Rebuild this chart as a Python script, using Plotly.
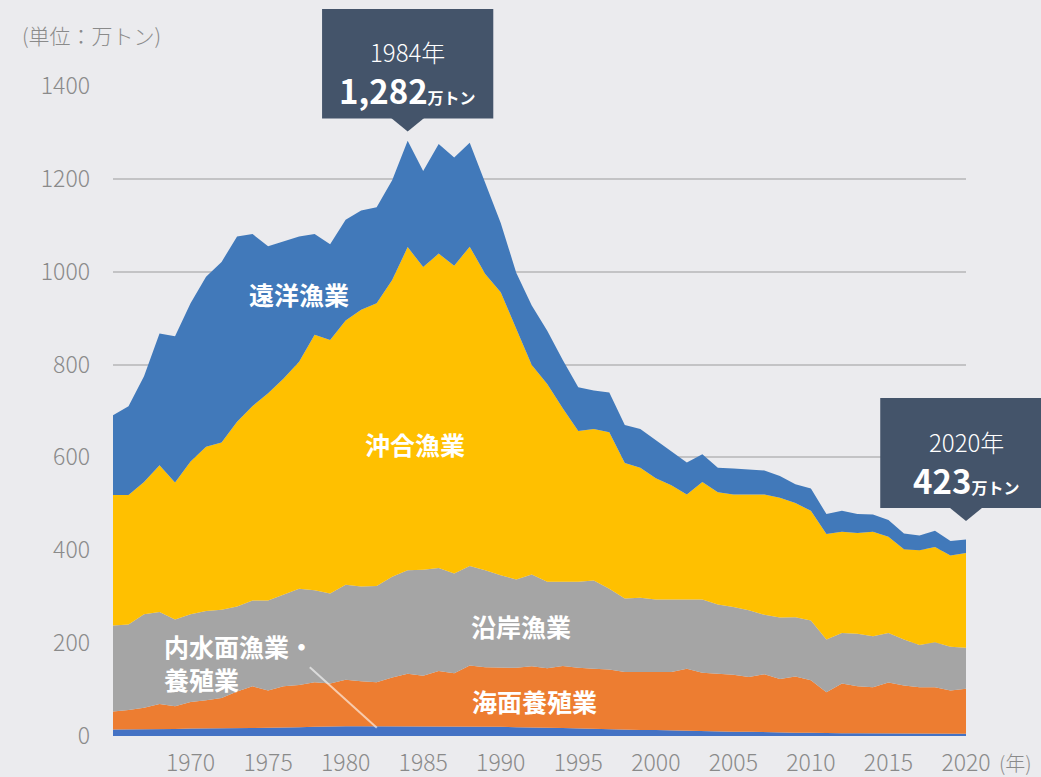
import plotly.graph_objects as go

years = list(range(1965, 2021))

inland = [14, 14, 14, 15, 15, 16, 16, 16, 17, 17,
          18, 18, 19, 20, 21, 21, 21, 21, 21, 20,
          20, 20, 20, 20, 20, 20, 19, 19, 18, 17,
          16, 16, 15, 14, 13, 13, 12, 11, 11, 10,
          9, 9, 8, 7, 7, 7, 6, 6, 6, 6,
          6, 6, 6, 6, 5, 5]

marine_aqua = [39, 42, 47, 54, 49, 57, 61, 66, 79, 90,
               80, 89, 91, 96, 92, 100, 97, 95, 105, 114,
               110, 120, 115, 132, 128, 127, 128, 131, 128, 134,
               131, 129, 128, 124, 125, 125, 126, 134, 125, 124,
               123, 118, 125, 116, 121, 113, 88, 107, 101, 99,
               109, 103, 99, 99, 93, 97]

coastal = [185, 184, 201, 198, 187, 189, 192, 190, 183, 185,
           194, 198, 207, 198, 194, 205, 204, 207, 217, 223,
           228, 222, 215, 214, 209, 199, 190, 198, 186, 181,
           185, 190, 174, 158, 160, 156, 156, 149, 158, 149,
           146, 144, 128, 132, 128, 129, 114, 109, 113, 110,
           107, 99, 91, 97, 94, 88]

offshore = [281, 279, 285, 316, 295, 329, 354, 360, 398, 419,
            446, 465, 489, 550, 546, 569, 596, 609, 639, 696,
            652, 677, 663, 688, 638, 610, 540, 451, 426, 374,
            325, 326, 337, 292, 280, 261, 246, 226, 253, 242,
            242, 249, 259, 258, 246, 236, 227, 218, 217, 225,
            207, 194, 204, 205, 197, 204]

distant = [172, 191, 228, 284, 315, 341, 366, 389, 399, 370,
           317, 296, 270, 217, 206, 217, 214, 207, 215, 229,
           207, 236, 233, 224, 196, 149, 121, 128, 115, 104,
           94, 83, 86, 82, 83, 82, 74, 69, 60, 53,
           56, 54, 52, 47, 40, 48, 43, 45, 41, 37,
           36, 34, 32, 35, 31, 29]

series_names = ["内水面漁業・養殖業", "海面養殖業", "沿岸漁業", "沖合漁業", "遠洋漁業"]
series_vals = [inland, marine_aqua, coastal, offshore, distant]
series_colors = ["#4472c4", "#ed7d31", "#a5a5a5", "#ffc000", "#4179ba"]

x_ticks = [1970, 1975, 1980, 1985, 1990, 1995, 2000, 2005, 2010, 2015, 2020]
y_ticks = [0, 200, 400, 600, 800, 1000, 1200, 1400]

X0, X1 = 1965, 2020
Y0, Y1 = 0, 1400

def px(year):
    return (year - X0) / (X1 - X0)

def py(val):
    return (val - Y0) / (Y1 - Y0)

FONT = "Noto Sans CJK JP"
GRAY = "#8a8a8a"
BOX = "#44546a"
BG = "#ebebee"

fig = go.Figure()
for name, vals, col in zip(series_names, series_vals, series_colors):
    fig.add_trace(go.Scatter(
        x=years, y=vals, name=name, stackgroup="one",
        mode="lines", line=dict(width=0, color=col),
        fillcolor=col, hoverinfo="skip", showlegend=False))

fig.update_layout(
    width=1041, height=777,
    margin=dict(l=113, r=75, t=86, b=41),
    paper_bgcolor=BG, plot_bgcolor=BG,
    font=dict(family=FONT, color=GRAY),
    xaxis=dict(range=[X0, X1], tickvals=x_ticks, ticktext=[str(v) for v in x_ticks],
               showgrid=False, zeroline=False, showline=False, ticks="",
               tickfont=dict(size=23, color=GRAY, family=FONT, weight=300),
               ticklabelstandoff=11, fixedrange=True, automargin=False),
    yaxis=dict(range=[Y0, Y1], tickvals=y_ticks, ticktext=[str(v) for v in y_ticks],
               showgrid=True, gridcolor="#c3c3c5", gridwidth=2,
               zeroline=False, showline=False, ticks="",
               tickfont=dict(size=23, color=GRAY, family=FONT, weight=300),
               ticklabelstandoff=22, fixedrange=True, automargin=False),
)

shapes = []
annotations = []

# unit label and year suffix
annotations.append(dict(xref="paper", yref="paper", x=(20 - 113) / 853, y=(735.5 - 35) / 649.2,
                        xanchor="left", yanchor="middle", showarrow=False,
                        text="(単位：万トン)", font=dict(size=21, color=GRAY, family=FONT, weight=300)))
annotations.append(dict(xref="paper", yref="paper", x=(997 - 113) / 853, y=-26 / 649.2,
                        xanchor="left", yanchor="middle", showarrow=False,
                        text="(年)", font=dict(size=20, color=GRAY, family=FONT, weight=300)))

yrs_per_px = 55 / 852.5

def callout(cx, top_val, bot_val, tip_val, left_yr, right_yr, line1, big, line1_val, line2_val):
    shapes.append(dict(type="rect", xref="paper", yref="paper",
                       x0=px(left_yr), x1=px(right_yr), y0=py(bot_val), y1=py(top_val),
                       fillcolor=BOX, line=dict(width=0), layer="above"))
    hw = 16.5 * yrs_per_px
    path = "M {a},{b} L {c},{d} L {e},{f} Z".format(
        a=px(cx - hw), b=py(bot_val + 1), c=px(cx + hw), d=py(bot_val + 1), e=px(cx), f=py(tip_val))
    shapes.append(dict(type="path", xref="paper", yref="paper", path=path,
                       fillcolor=BOX, line=dict(width=0), layer="above"))
    annotations.append(dict(xref="paper", yref="paper", x=px(cx), y=py(line1_val),
                            xanchor="center", yanchor="middle", showarrow=False,
                            text=line1, font=dict(size=24, color="white", family=FONT, weight=300)))
    annotations.append(dict(xref="paper", yref="paper", x=px(cx), y=py(line2_val),
                            xanchor="center", yanchor="middle", showarrow=False,
                            text="<b>" + big + "</b><span style='font-size:16px'><b>万トン</b></span>",
                            font=dict(size=33, color="white", family=FONT)))

callout(1984, 1566, 1330, 1302, 1978.48, 1989.52, "1984年", "1,282", 1475, 1392)
callout(2020, 728, 491, 463, 2014.47, 2027.0, "2020年", "423", 634, 552)

# series labels
def label(text, yr, val, anchor="center"):
    annotations.append(dict(xref="paper", yref="paper", x=px(yr), y=py(val),
                            xanchor=anchor, yanchor="middle", showarrow=False, align="left",
                            text="<b>" + text + "</b>",
                            font=dict(size=25, color="white", family=FONT)))

label("遠洋漁業", 1965 + (299 - 113.3) / 15.5, (735.5 - 294) / 0.4636)
label("沖合漁業", 1965 + (415 - 113.3) / 15.5, (735.5 - 444) / 0.4636)
label("沿岸漁業", 1965 + (521 - 113.3) / 15.5, (735.5 - 626) / 0.4636)
label("海面養殖業", 1965 + (535 - 113.3) / 15.5, (735.5 - 701) / 0.4636)
label("内水面漁業・<br>養殖業", 1965 + (162 - 113.3) / 15.5, (735.5 - 662) / 0.4636, anchor="left")

# leader line to inland layer
shapes.append(dict(type="line", xref="paper", yref="paper",
                   x0=px(1977.69), y0=py(148), x1=px(1982.01), y1=py(18),
                   line=dict(color="rgba(255,255,255,0.6)", width=2)))

fig.update_layout(shapes=shapes, annotations=annotations)
fig.write_html("out.html", config={"displayModeBar": False},
               post_script="document.body.style.margin='0';document.body.style.padding='0';"
                           "document.body.style.background='#ebebee';"
                           "document.documentElement.style.overflow='hidden';")
